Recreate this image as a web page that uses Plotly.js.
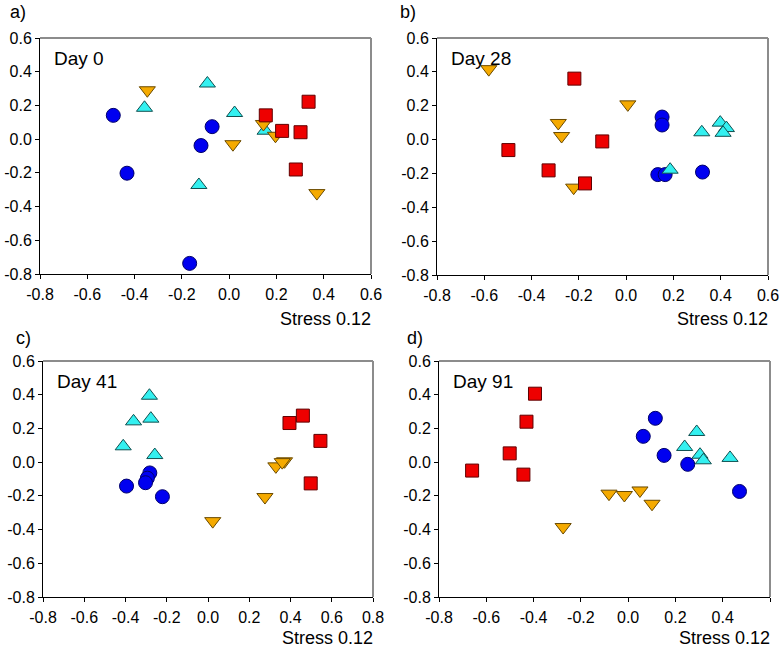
<!DOCTYPE html>
<html>
<head>
<meta charset="utf-8">
<script src="https://cdn.plot.ly/plotly-3.0.1.min.js"></script>
<style>html,body{margin:0;padding:0;background:#fff;}#chart{width:781px;height:648px;}</style>
</head>
<body>
<div id="chart"></div>
<script>
// ---- Data (NMDS coordinates) ----
const panelLetters = ["a)", "b)", "c)", "d)"];
const panelDays = ["Day 0", "Day 28", "Day 41", "Day 91"];
const stressText = "Stress 0.12";
const tickValsX = [-0.8, -0.6, -0.4, -0.2, 0.0, 0.2, 0.4, 0.6, 0.8];
const tickValsY = [-0.8, -0.6, -0.4, -0.2, 0.0, 0.2, 0.4, 0.6];

// Day 0
const d0CircleX = [-0.49, -0.432, -0.072, -0.119, -0.167];
const d0CircleY = [0.141, -0.202, 0.074, -0.038, -0.737];
const d0UpX = [-0.358, -0.092, 0.023, -0.128, 0.152];
const d0UpY = [0.186, 0.330, 0.155, -0.272, 0.050];
const d0DownX = [-0.346, 0.016, 0.145, 0.196, 0.371];
const d0DownY = [0.290, -0.030, 0.090, 0.020, -0.320];
const d0SquareX = [0.155, 0.224, 0.302, 0.336, 0.282];
const d0SquareY = [0.141, 0.049, 0.041, 0.222, -0.180];

// Day 28
const d28CircleX = [0.152, 0.152, 0.134, 0.165, 0.323];
const d28CircleY = [0.133, 0.086, -0.207, -0.207, -0.192];
const d28UpX = [0.320, 0.398, 0.424, 0.410, 0.186];
const d28UpY = [0.043, 0.100, 0.068, 0.040, -0.178];
const d28DownX = [-0.581, 0.007, -0.287, -0.273, -0.222];
const d28DownY = [0.416, 0.208, 0.098, 0.021, -0.284];
const d28SquareX = [-0.219, -0.498, -0.328, -0.174, -0.101];
const d28SquareY = [0.360, -0.062, -0.182, -0.259, -0.011];

// Day 41
const d41CircleX = [-0.282, -0.294, -0.303, -0.395, -0.221];
const d41CircleY = [-0.064, -0.095, -0.122, -0.142, -0.205];
const d41UpX = [-0.284, -0.277, -0.361, -0.411, -0.258];
const d41UpY = [0.394, 0.258, 0.242, 0.094, 0.042];
const d41DownX = [0.023, 0.276, 0.329, 0.371, 0.360];
const d41DownY = [-0.350, -0.207, -0.025, 0.005, 0.000];
const d41SquareX = [0.395, 0.460, 0.545, 0.498];
const d41SquareY = [0.232, 0.276, 0.126, -0.126];

// Day 91
const d91CircleX = [0.115, 0.064, 0.152, 0.252, 0.471];
const d91CircleY = [0.260, 0.153, 0.040, -0.013, -0.174];
const d91UpX = [0.290, 0.239, 0.304, 0.318, 0.431];
const d91UpY = [0.179, 0.090, 0.044, 0.011, 0.025];
const d91DownX = [-0.275, -0.081, -0.016, 0.050, 0.101];
const d91DownY = [-0.385, -0.187, -0.195, -0.168, -0.247];
const d91SquareX = [-0.394, -0.430, -0.501, -0.443, -0.660];
const d91SquareY = [0.406, 0.240, 0.052, -0.074, -0.050];

const panels = [
  {circle:[d0CircleX,d0CircleY], up:[d0UpX,d0UpY], down:[d0DownX,d0DownY], square:[d0SquareX,d0SquareY], xmax:0.6},
  {circle:[d28CircleX,d28CircleY], up:[d28UpX,d28UpY], down:[d28DownX,d28DownY], square:[d28SquareX,d28SquareY], xmax:0.6},
  {circle:[d41CircleX,d41CircleY], up:[d41UpX,d41UpY], down:[d41DownX,d41DownY], square:[d41SquareX,d41SquareY], xmax:0.8},
  {circle:[d91CircleX,d91CircleY], up:[d91UpX,d91UpY], down:[d91DownX,d91DownY], square:[d91SquareX,d91SquareY], xmax:0.6}
];

// ---- Layout geometry (pixels) ----
const W = 781, H = 648;
const boxes = [
  {l:40, r:371, t:38, b:274},
  {l:437, r:768, t:38, b:275},
  {l:43, r:373, t:361, b:597},
  {l:439, r:770, t:361, b:597}
];
const letterPos = [[8,12],[398,12],[14,338],[405,338]];
const stressY = [319, 319, 638, 638];

const styles = {
  circle: {symbol:'circle', size:14, color:'#0000f0', line:'#00006a'},
  up: {symbol:'triangle-up', size:14, color:'#33f0f0', line:'#105050'},
  down: {symbol:'triangle-down', size:14, color:'#f5aa00', line:'#6a4a00'},
  square: {symbol:'square', size:13, color:'#ee0000', line:'#600000'}
};

const traces = [];
const layout = {
  width: W, height: H,
  margin: {l:0, r:0, t:0, b:0},
  paper_bgcolor: '#ffffff', plot_bgcolor: '#ffffff',
  showlegend: false,
  font: {family: 'Liberation Sans, Arial, sans-serif', color: '#000', size: 16},
  annotations: [], shapes: []
};

panels.forEach((p, i) => {
  const n = i === 0 ? '' : String(i + 1);
  const xa = 'x' + n, ya = 'y' + n;
  ['circle','up','down','square'].forEach(k => {
    const s = styles[k];
    traces.push({
      type: 'scatter', mode: 'markers', xaxis: xa, yaxis: ya,
      x: p[k][0], y: p[k][1],
      marker: {symbol: s.symbol, size: s.size, color: s.color, line: {color: s.line, width: 1}},
      hoverinfo: 'x+y'
    });
  });
  const b = boxes[i];
  const xdom = [b.l / W, b.r / W];
  const ydom = [1 - b.b / H, 1 - b.t / H];
  const xt = tickValsX.filter(v => v <= p.xmax + 1e-9);
  layout['xaxis' + n] = {
    domain: xdom, anchor: ya, range: [-0.8, p.xmax],
    tickvals: xt, ticktext: xt.map(v => v.toFixed(1)),
    ticks: 'outside', ticklen: 4, tickcolor: '#000', tickwidth: 1,
    ticklabelstandoff: 2,
    showline: true, linecolor: '#000', linewidth: 1,
    showgrid: false, zeroline: false,
    tickfont: {size: 16}
  };
  layout['yaxis' + n] = {
    domain: ydom, anchor: xa, range: [-0.8, 0.6],
    tickvals: tickValsY, ticktext: tickValsY.map(v => v.toFixed(1)),
    ticks: 'outside', ticklen: 4, tickcolor: '#000', tickwidth: 1,
    showline: true, linecolor: '#000', linewidth: 1,
    showgrid: false, zeroline: false,
    tickfont: {size: 16}
  };
  // grey top and right frame lines
  layout.shapes.push({type:'line', xref: xa + ' domain', yref: ya + ' domain', x0:0, x1:1, y0:1, y1:1, line:{color:'#8c8c8c', width:2}});
  layout.shapes.push({type:'line', xref: xa + ' domain', yref: ya + ' domain', x0:1, x1:1, y0:0, y1:1, line:{color:'#8c8c8c', width:2}});
  // panel letter
  layout.annotations.push({xref:'paper', yref:'paper', x: letterPos[i][0] / W, y: 1 - letterPos[i][1] / H,
    xanchor:'left', yanchor:'middle', text: panelLetters[i], showarrow:false, font:{size:18}});
  // day label inside plot
  layout.annotations.push({xref: xa + ' domain', yref: ya + ' domain', x: 0.035, y: 0.915,
    xanchor:'left', yanchor:'middle', text: panelDays[i], showarrow:false, font:{size:19}});
  // stress label
  layout.annotations.push({xref:'paper', yref:'paper', x: (b.r + 2) / W, y: 1 - stressY[i] / H,
    xanchor:'right', yanchor:'middle', text: stressText, showarrow:false, font:{size:18}});
});

Plotly.newPlot('chart', traces, layout, {staticPlot: true, displayModeBar: false});
</script>
</body>
</html>
